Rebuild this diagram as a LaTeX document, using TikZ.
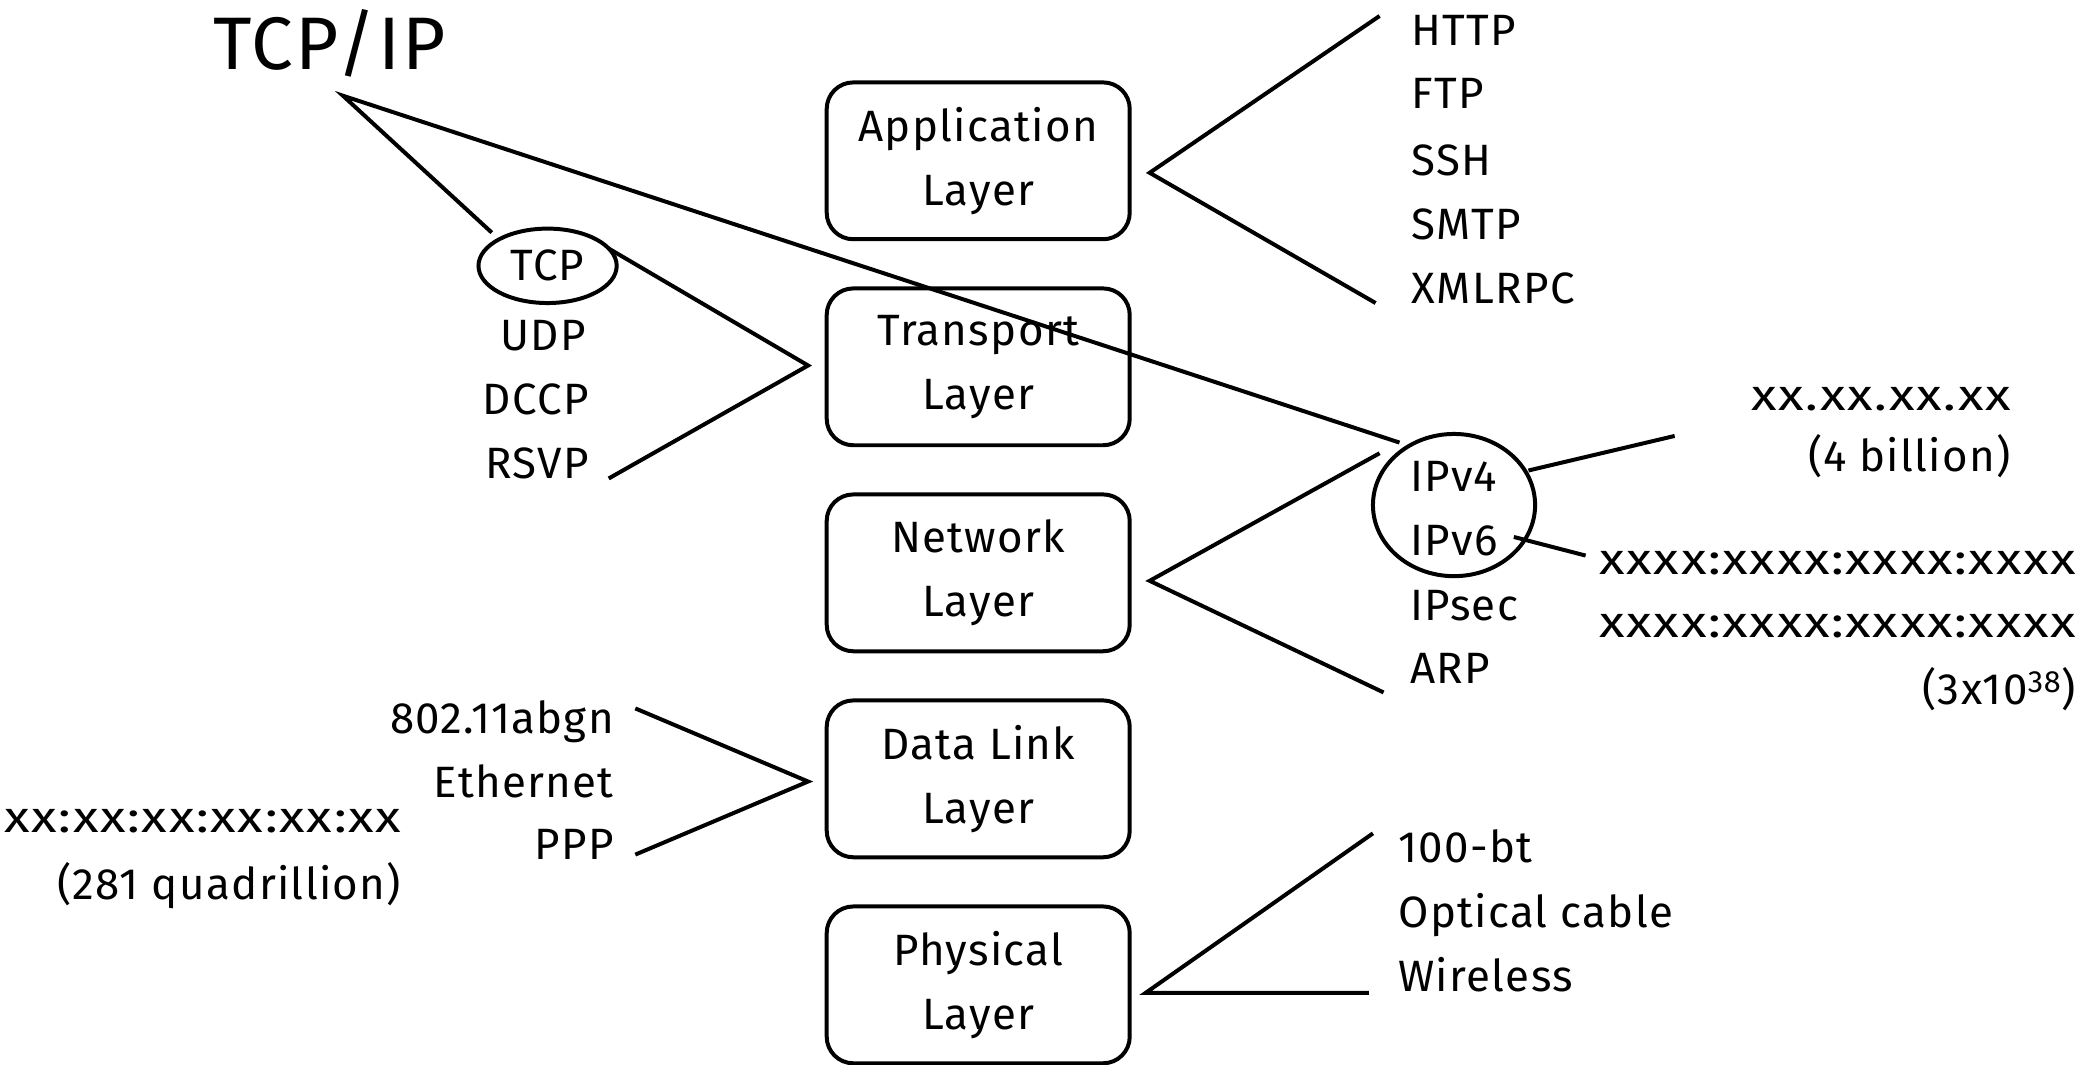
\documentclass[tikz,border=0pt]{standalone}
\usepackage{fontspec}
\setmainfont{Fira Sans}[LetterSpace=3]
\usetikzlibrary{shapes.geometric}
\newcommand{\widex}[1]{\scalebox{1.2}[1]{#1}}
\begin{document}
\begin{tikzpicture}[x=1pt,y=-1pt,
  every node/.style={inner sep=0pt,font=\fontsize{33}{48.5}\selectfont},
  layerbox/.style={draw,line width=3pt,rounded corners=20pt,minimum width=228pt,minimum height=118pt,align=center},
  conn/.style={line width=3pt},
  lbl/.style={anchor=base west},
  rlbl/.style={anchor=base east}]
\useasboundingbox (0,0) rectangle (1568,801);
% title
\node[anchor=base,font=\fontsize{56}{60}\selectfont] (tcpip) at (248,52) {TCP/IP};
% layer boxes
\node[layerbox] (app) at (736,121) {Application\\Layer};
\node[layerbox] (trans) at (736,276) {Transport\\Layer};
\node[layerbox] (net) at (736,431) {Network\\Layer};
\node[layerbox] (dl) at (736,586) {Data Link\\Layer};
\node[layerbox] (phys) at (736,741) {Physical\\Layer};
% application protocols
\node[lbl] (http) at (1062,34) {HTTP};
\node[lbl] (ftp) at (1062,82) {FTP};
\node[lbl] (ssh) at (1062,132) {SSH};
\node[lbl] (smtp) at (1062,180) {SMTP};
\node[lbl] (xmlrpc) at (1062,228) {XMLRPC};
% transport protocols
\node[draw,ellipse,line width=3pt,minimum width=104pt,minimum height=56pt] (tcp) at (412,200) {TCP};
\node[rlbl] (udp) at (441,264) {UDP};
\node[rlbl] (dccp) at (443,312) {DCCP};
\node[rlbl] (rsvp) at (443,360) {RSVP};
% network protocols
\node[draw,ellipse,line width=3pt,minimum width=122pt,minimum height=107pt] (ipring) at (1094,380) {};
\node[lbl] (ipv4) at (1061,370) {IPv4};
\node[lbl] (ipv6) at (1061,418) {IPv6};
\node[lbl] (ipsec) at (1061,467) {IPsec};
\node[lbl] (arp) at (1061,514) {ARP};
\node[rlbl] (v4addr) at (1513,309) {\widex{xx.xx.xx.xx}};
\node[rlbl] (v4count) at (1513,355) {(4 billion)};
\node[rlbl] (v6addra) at (1562,432) {\widex{xxxx:xxxx:xxxx:xxxx}};
\node[rlbl] (v6addrb) at (1562,480) {\widex{xxxx:xxxx:xxxx:xxxx}};
\node[rlbl] (v6count) at (1562,530) {(3x10\textsuperscript{38})};
% data link
\node[rlbl] (wifi) at (462,552) {802.11abgn};
\node[rlbl] (eth) at (462,600) {Ethernet};
\node[rlbl] (ppp) at (462,647) {PPP};
\node[rlbl] (macaddr) at (302,626) {\widex{xx:xx:xx:xx:xx:xx}};
\node[rlbl] (maccount) at (302,677) {(281 quadrillion)};
% physical
\node[lbl] (bt) at (1052,649) {100-bt};
\node[lbl] (optical) at (1052,698) {Optical cable};
\node[lbl] (wireless) at (1052,746) {Wireless};
% connector points
\coordinate (tapex) at (258,72);
\coordinate (ttcp) at (370,175);
\coordinate (tip) at (1053,333);
\coordinate (trA) at (458,187);
\coordinate (trApex) at (608,275);
\coordinate (trB) at (458,360);
\coordinate (apA) at (1038,12);
\coordinate (apApex) at (865,130);
\coordinate (apB) at (1035,228);
\coordinate (nwA) at (1038,341);
\coordinate (nwApex) at (865,437);
\coordinate (nwB) at (1041,521);
\coordinate (v4a) at (1150,354);
\coordinate (v4b) at (1260,328);
\coordinate (v6a) at (1139,404);
\coordinate (v6b) at (1193,418);
\coordinate (dlA) at (478,533);
\coordinate (dlApex) at (608,588);
\coordinate (dlB) at (478,643);
\coordinate (phA) at (1033,627);
\coordinate (phApex) at (862,747);
\coordinate (phB) at (1030,747);
% connectors
\draw[conn] (ttcp) -- (tapex) -- (tip);
\draw[conn] (trA) -- (trApex) -- (trB);
\draw[conn] (apA) -- (apApex) -- (apB);
\draw[conn] (nwA) -- (nwApex) -- (nwB);
\draw[conn] (v4a) -- (v4b);
\draw[conn] (v6a) -- (v6b);
\draw[conn] (dlA) -- (dlApex) -- (dlB);
\draw[conn] (phA) -- (phApex) -- (phB);
\end{tikzpicture}
\end{document}
